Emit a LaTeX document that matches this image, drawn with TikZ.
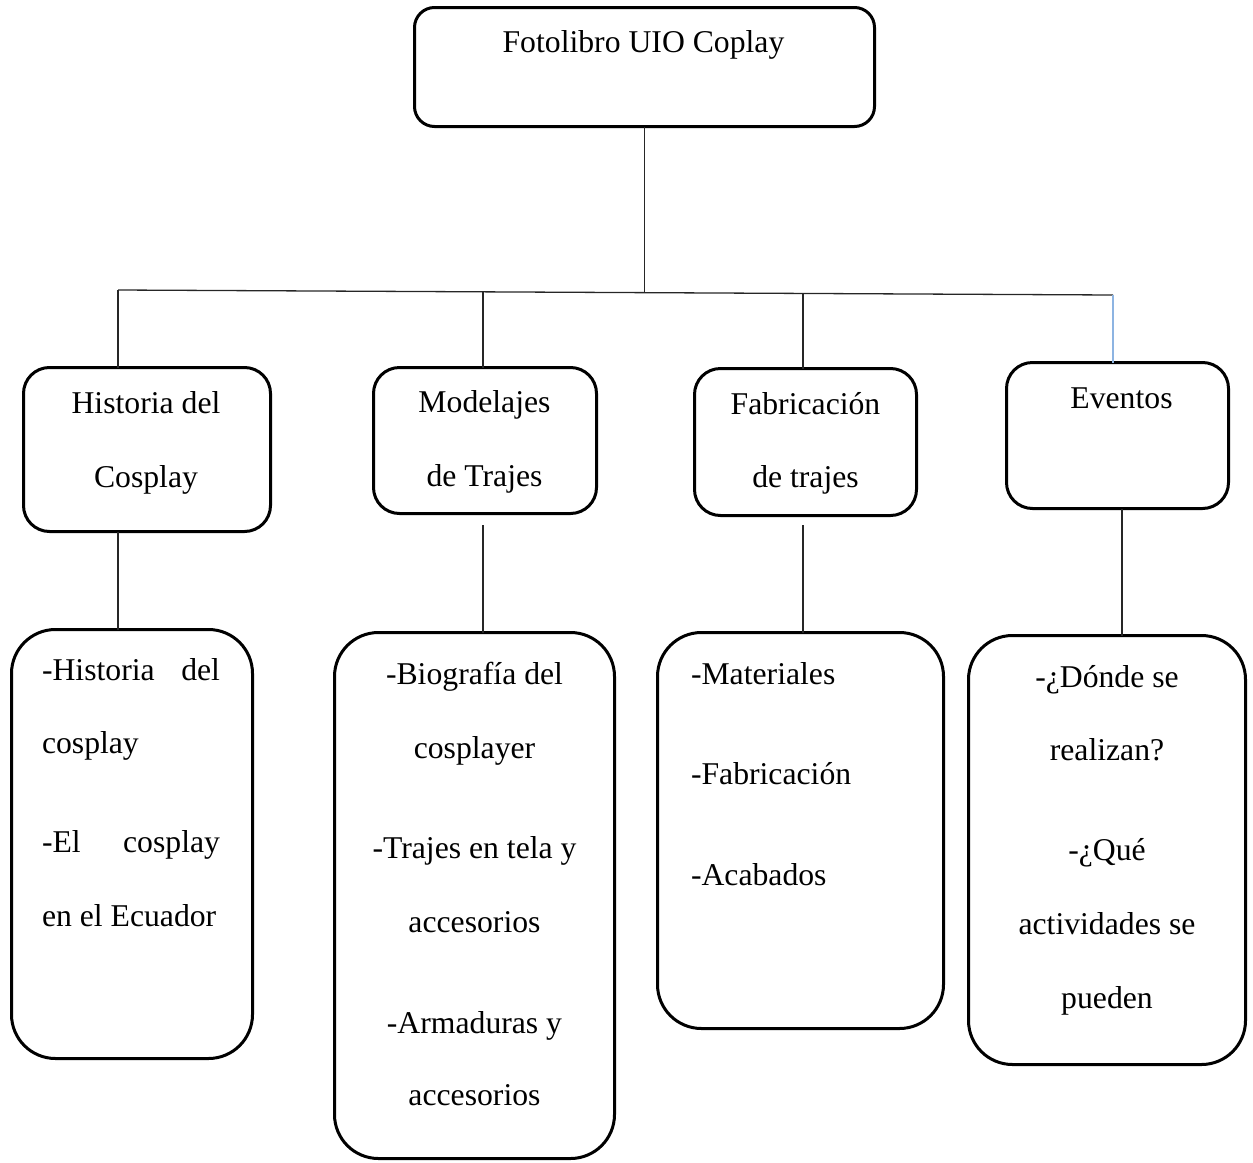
\documentclass[tikz,border=0pt]{standalone}
\usepackage{fontspec}
\setmainfont{Liberation Serif}
\usetikzlibrary{calc}
\definecolor{paleblue}{RGB}{141,180,226}
\begin{document}
\begin{tikzpicture}[x=1pt,y=-1pt,
  box/.style={draw=black,line width=3pt,rectangle,inner sep=0pt,outer sep=0pt},
  topbox/.style={box,rounded corners=20pt},
  midbox/.style={box,rounded corners=26pt},
  lowbox/.style={box,rounded corners=44pt},
  txt/.style={inner sep=0pt,outer sep=0pt,font=\fontsize{31.7}{38}\selectfont},
  link/.style={draw=black!85,line width=1.3pt},
  bluelink/.style={draw=paleblue,line width=1.4pt}]
\useasboundingbox (0,0) rectangle (1253,1162);

% top box
\node[topbox,minimum width=460pt,minimum height=119pt] (top) at (644.5,67) {};
\node[txt,anchor=base] (ttop) at (643.5,52) {Fotolibro UIO Coplay};

% second row
\node[midbox,minimum width=247pt,minimum height=164pt] (hist) at (147,449.5) {};
\node[midbox,minimum width=223pt,minimum height=146pt] (mod) at (485,440.5) {};
\node[midbox,minimum width=222pt,minimum height=147pt] (fab) at (805.5,442) {};
\node[midbox,minimum width=222pt,minimum height=146pt] (ev) at (1117.5,435.5) {};

\node[txt,anchor=base] (thist1) at (146,413) {Historia del};
\node[txt,anchor=base] (thist2) at (146,487) {Cosplay};
\node[txt,anchor=base] (tmod1) at (484.5,412) {Modelajes};
\node[txt,anchor=base] (tmod2) at (484.5,486) {de Trajes};
\node[txt,anchor=base] (tfab1) at (805.5,414) {Fabricación};
\node[txt,anchor=base] (tfab2) at (805.5,487) {de trajes};
\node[txt,anchor=base] (tev) at (1121.5,408) {Eventos};

% third row
\node[lowbox,minimum width=241pt,minimum height=429pt] (b1) at (132,844) {};
\node[lowbox,minimum width=280pt,minimum height=526pt] (b2) at (474.5,895.5) {};
\node[lowbox,minimum width=286pt,minimum height=396pt] (b3) at (800.5,830.5) {};
\node[lowbox,minimum width=277pt,minimum height=429pt] (b4) at (1107,850) {};

\node[txt,anchor=base west] (a1) at (42,680) {\hbox to 178pt{-Historia\hfill del}};
\node[txt,anchor=base west] (a2) at (42,753) {cosplay};
\node[txt,anchor=base west] (a3) at (42,852) {\hbox to 178pt{-El\hfill cosplay}};
\node[txt,anchor=base west] (a4) at (42,926) {en el Ecuador};

\node[txt,anchor=base] (m1) at (474.5,684) {-Biografía del};
\node[txt,anchor=base] (m2) at (474.5,758) {cosplayer};
\node[txt,anchor=base] (m3) at (474.5,858) {-Trajes en tela y};
\node[txt,anchor=base] (m4) at (474.5,932) {accesorios};
\node[txt,anchor=base] (m5) at (474.5,1033) {-Armaduras y};
\node[txt,anchor=base] (m6) at (474.5,1105) {accesorios};

\node[txt,anchor=base west] (f1) at (691,684) {-Materiales};
\node[txt,anchor=base west] (f2) at (691,784) {-Fabricación};
\node[txt,anchor=base west] (f3) at (691,885) {-Acabados};

\node[txt,anchor=base] (e1) at (1107,687) {-¿Dónde se};
\node[txt,anchor=base] (e2) at (1107,760) {realizan?};
\node[txt,anchor=base] (e3) at (1107,860) {-¿Qué};
\node[txt,anchor=base] (e4) at (1107,934) {actividades se};
\node[txt,anchor=base] (e5) at (1107,1008) {pueden};

% branching bar
\coordinate (j1) at (118,290);
\coordinate (j2) at (483,291.8);
\coordinate (jt) at (644.5,292.6);
\coordinate (j3) at (803,293.4);
\coordinate (j4) at (1113,295);
\coordinate (k2) at (483,525);
\coordinate (k3) at (803,525);
\coordinate (k4) at (1122,508.5);

\draw[link] (top.south) -- (jt);
\draw[link] (j1) -- (j4);
\draw[link] (j1) -- (j1 |- hist.north);
\draw[link] (j2) -- (j2 |- mod.north);
\draw[link] (j3) -- (j3 |- fab.north);
\draw[bluelink] (j4) -- (j4 |- ev.north);

% links to the detail boxes
\draw[link] (j1 |- hist.south) -- (j1 |- b1.north);
\draw[link] (k2) -- (k2 |- b2.north);
\draw[link] (k3) -- (k3 |- b3.north);
\draw[link] (k4) -- (k4 |- b4.north);
\end{tikzpicture}
\end{document}
